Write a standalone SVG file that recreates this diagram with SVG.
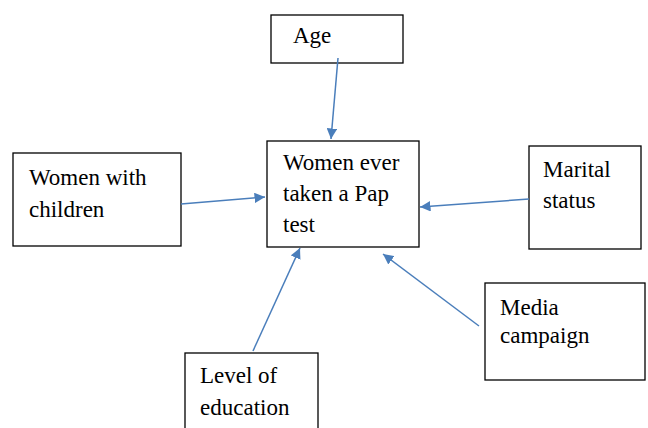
<svg xmlns="http://www.w3.org/2000/svg" width="648" height="428" viewBox="0 0 648 428">
<style>
.box{fill:#fff;stroke:#000;stroke-width:1.3}
.t{font-family:"Liberation Serif","Times New Roman",serif;font-size:23px;fill:#000}
.c{stroke:#4a7ebb;stroke-width:1.5;fill:none;marker-end:url(#ah)}
</style>
<defs>
<marker id="ah" viewBox="0 0 10 10" refX="10" refY="5" markerWidth="7" markerHeight="7" markerUnits="strokeWidth" orient="auto">
<path d="M0,0 L10,5 L0,10 z" fill="#4a7ebb"/>
</marker>
</defs>
<rect width="648" height="428" fill="#fff"/>
<g id="age"><rect class="box" x="271" y="15" width="132" height="48"/><text class="t" x="293" y="43">Age</text></g>
<g id="center"><rect class="box" x="267" y="141" width="152" height="106"/><text class="t" x="283" y="170">Women ever</text><text class="t" x="283" y="201">taken a Pap</text><text class="t" x="283" y="232">test</text></g>
<g id="children"><rect class="box" x="13" y="153" width="168" height="93"/><text class="t" x="29" y="185">Women with</text><text class="t" x="29" y="217">children</text></g>
<g id="marital"><rect class="box" x="529" y="146" width="112" height="103"/><text class="t" x="543" y="177">Marital</text><text class="t" x="543" y="208">status</text></g>
<g id="media"><rect class="box" x="485" y="283" width="160" height="97"/><text class="t" x="500" y="315">Media</text><text class="t" x="500" y="343">campaign</text></g>
<g id="education"><rect class="box" x="185" y="353" width="133" height="80"/><text class="t" x="200" y="383">Level of</text><text class="t" x="200" y="415">education</text></g>
<g id="connectors">
<line class="c" x1="338" y1="58" x2="331" y2="139"/>
<line class="c" x1="181" y1="204" x2="265" y2="197"/>
<line class="c" x1="529" y1="199" x2="420" y2="207"/>
<line class="c" x1="479" y1="326" x2="383" y2="254"/>
<line class="c" x1="253" y1="351" x2="300" y2="248"/>
</g>
</svg>
